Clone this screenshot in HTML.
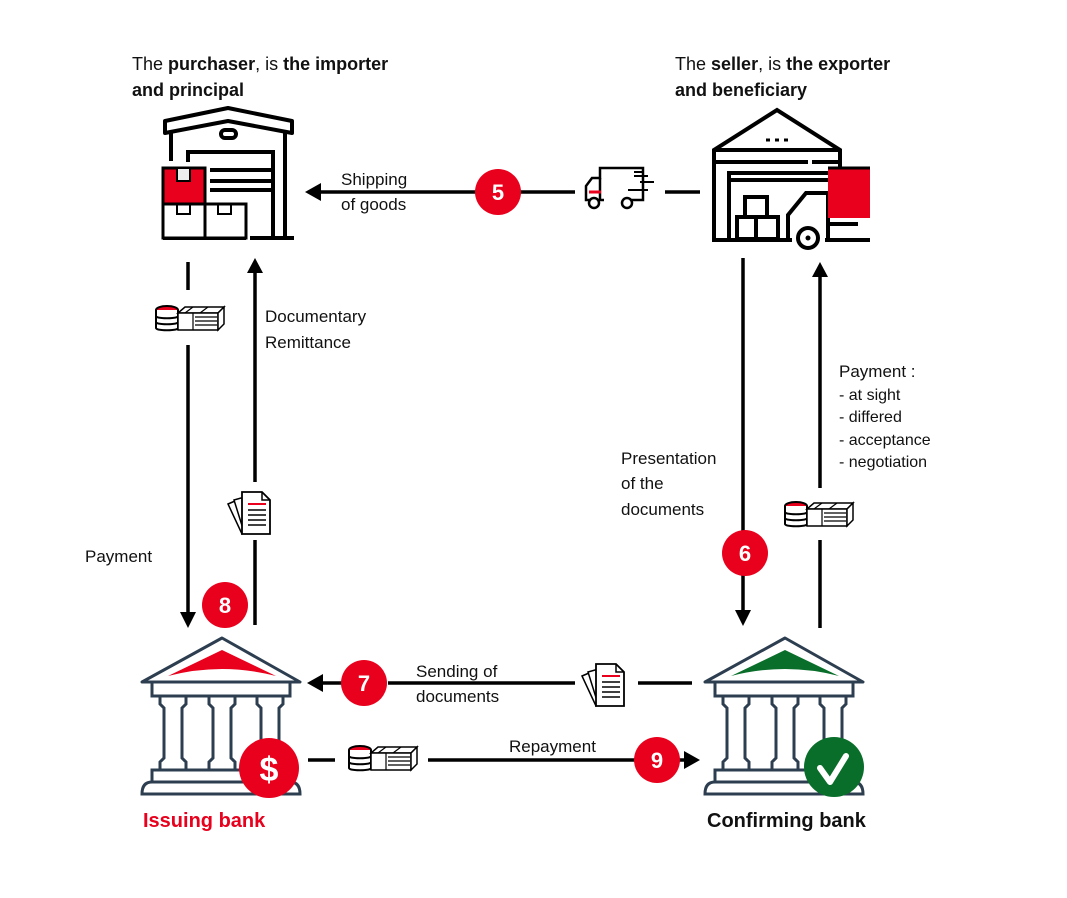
<!DOCTYPE html>
<html><head><meta charset="utf-8"><style>
html,body{margin:0;padding:0;background:#fff;}
svg{display:block;}
text{font-family:"Liberation Sans",sans-serif;font-size:17px;fill:#111;}
.b{font-weight:bold;}
.num{font-weight:bold;font-size:22px;fill:#fff;text-anchor:middle;}
</style></head><body>
<svg width="1067" height="898" viewBox="0 0 1067 898" xmlns="http://www.w3.org/2000/svg">
<defs>
<g id="money">
  <ellipse cx="12" cy="5" rx="11" ry="4" fill="#e8001c" stroke="#000" stroke-width="2"/>
  <path d="M1 5v18c0 3 22 3 22 0V5" fill="#fff" stroke="#000" stroke-width="2"/>
  <path d="M1 11c0 3 22 3 22 0M1 17c0 3 22 3 22 0" fill="none" stroke="#000" stroke-width="2"/>
  <path d="M23 8h40l6-6H30z" fill="#fff" stroke="#000" stroke-width="1.5"/>
  <rect x="23" y="8" width="40" height="17" fill="#fff" stroke="#000" stroke-width="1.5"/>
  <path d="M63 8l6-6v17l-6 6z" fill="#fff" stroke="#000" stroke-width="1.5"/>
  <path d="M40 12h22M40 16h22M40 20h22M38 8v17M30 8l8-6M45 8l8-6" stroke="#000" stroke-width="1.2"/>
</g>
<g id="docs">
  <path d="M2 14l14-6 14 30-14 6z" fill="#fff" stroke="#000" stroke-width="1.5"/>
  <path d="M8 10l14-4 10 32-14 4z" fill="#fff" stroke="#000" stroke-width="1.5"/>
  <path d="M16 2h20l8 8v34H16z" fill="#fff" stroke="#000" stroke-width="1.8"/>
  <path d="M36 2v8h8" fill="none" stroke="#000" stroke-width="1.5"/>
  <path d="M22 14h18" stroke="#e8001c" stroke-width="2"/>
  <path d="M22 20h18M22 25h18M22 30h18M22 35h18" stroke="#000" stroke-width="1.5"/>
</g>
<g id="bank">
  <path d="M2 46L82 2 160 46Z" fill="#fff" stroke="#2d3e50" stroke-width="3" stroke-linejoin="round"/>
  <rect x="12" y="46" width="138" height="14" fill="#fff" stroke="#2d3e50" stroke-width="3"/>
  <g fill="#fff" stroke="#2d3e50" stroke-width="3">
    <path d="M20 60h26v8l-4 4v50l4 4v8H20v-8l4-4V72l-4-4z"/>
    <path d="M69 60h26v8l-4 4v50l4 4v8H69v-8l4-4V72l-4-4z"/>
    <path d="M117 60h26v8l-4 4v50l4 4v8h-26v-8l4-4V72l-4-4z"/>
  </g>
  <rect x="12" y="134" width="138" height="12" fill="#fff" stroke="#2d3e50" stroke-width="3"/>
  <path d="M2 158q0-12 10-12h138q10 0 10 12z" fill="#fff" stroke="#2d3e50" stroke-width="3"/>
</g>
</defs>

<!-- headers -->
<text x="132" y="70" style="font-size:18px">The <tspan class="b">purchaser</tspan>, is <tspan class="b">the importer</tspan></text>
<text x="132" y="96" class="b" style="font-size:18px">and principal</text>
<text x="675" y="70" style="font-size:18px">The <tspan class="b">seller</tspan>, is <tspan class="b">the exporter</tspan></text>
<text x="675" y="96" class="b" style="font-size:18px">and beneficiary</text>

<!-- purchaser warehouse -->
<g fill="none" stroke="#000" stroke-width="4">
  <path d="M165 133v-12l63-13 64 13v12l-64-12z" stroke-linejoin="round"/>
  <path d="M171 131v30M285 131v106"/>
  <path d="M188 162v-10h85v85"/>
  <path d="M210 170h62M210 181h62M210 190h62"/>
  <rect x="221" y="130" width="15" height="8" rx="4"/>
  <path d="M163 238h83M250 238h44"/>
</g>
<rect x="163" y="168" width="42" height="36" fill="#e8001c" stroke="#000" stroke-width="3"/>
<rect x="177" y="168" width="13" height="13" fill="#eee" stroke="#000" stroke-width="2"/>
<rect x="163" y="204" width="42" height="34" fill="#fff" stroke="#000" stroke-width="3"/>
<rect x="205" y="204" width="41" height="34" fill="#fff" stroke="#000" stroke-width="3"/>
<path d="M177 204v10h13v-10M218 204v10h13v-10" fill="none" stroke="#000" stroke-width="2"/>

<!-- seller warehouse -->
<g fill="none" stroke="#000" stroke-width="4">
  <path d="M714 240V150l63-40 63 40v17"/>
  <path d="M714 150h126M714 162h94M812 162h28"/>
  <path d="M729 240V173h100"/>
  <path d="M729 180h100"/>
  <path d="M766 140h4M775 140h4M784 140h4" stroke-width="3"/>
  <path d="M712 240h80M825 240h45"/>
  <rect x="745" y="197" width="22" height="20"/>
  <rect x="737" y="217" width="19" height="22"/>
  <rect x="756" y="217" width="22" height="22"/>
  <path d="M788 240v-25l18-22h22v46"/>
  <path d="M830 224h28"/>
</g>
<rect x="828" y="168" width="42" height="50" fill="#e8001c"/>
<path d="M828 168h42" stroke="#000" stroke-width="3"/>
<circle cx="808" cy="238" r="10" fill="#fff" stroke="#000" stroke-width="4"/>
<circle cx="808" cy="238" r="2.5"/>

<!-- shipping row -->
<path d="M320 192H476M520 192H575M665 192H700" stroke="#000" stroke-width="3.5"/>
<path d="M305 192l16-9v18z"/>
<circle cx="498" cy="192" r="23" fill="#e8001c"/>
<text x="498" y="200" class="num">5</text>
<text x="341" y="185">Shipping</text>
<text x="341" y="210">of goods</text>
<!-- truck -->
<g fill="none" stroke="#000" stroke-width="2.5">
  <path d="M604 200h-18v-14l6-8h8v-10h43v32h-14"/>
  <path d="M600 200v-22"/>
  <path d="M634 176h14M640 182h14M628 190h20M634 172h10" stroke-width="2"/>
</g>
<path d="M589 192h12" stroke="#e8001c" stroke-width="3"/>
<circle cx="594" cy="203" r="5" fill="#fff" stroke="#000" stroke-width="2.5"/>
<circle cx="627" cy="203" r="5" fill="#fff" stroke="#000" stroke-width="2.5"/>

<!-- left vertical lines -->
<path d="M188 262V290M188 345V612" stroke="#000" stroke-width="3.5"/>
<path d="M180 612h16l-8 16z"/>
<use href="#money" x="155" y="305"/>
<path d="M255 272V482M255 540V625" stroke="#000" stroke-width="3.5"/>
<path d="M247 273h16l-8-15z"/>
<use href="#docs" x="226" y="490"/>
<text x="265" y="322">Documentary</text>
<text x="265" y="348">Remittance</text>
<text x="85" y="562">Payment</text>
<circle cx="225" cy="605" r="23" fill="#e8001c"/>
<text x="225" y="613" class="num">8</text>

<!-- right vertical lines -->
<path d="M743 258V612" stroke="#000" stroke-width="3.5"/>
<path d="M735 610h16l-8 16z"/>
<circle cx="745" cy="553" r="23" fill="#e8001c"/>
<text x="745" y="561" class="num">6</text>
<path d="M820 276V488M820 540V628" stroke="#000" stroke-width="3.5"/>
<path d="M812 277h16l-8-15z"/>
<use href="#money" x="784" y="501"/>
<text x="621" y="464">Presentation</text>
<text x="621" y="489">of the</text>
<text x="621" y="515">documents</text>
<text x="839" y="377">Payment :</text>
<text x="839" y="400" style="font-size:16px">- at sight</text>
<text x="839" y="422" style="font-size:16px">- differed</text>
<text x="839" y="445" style="font-size:16px">- acceptance</text>
<text x="839" y="467" style="font-size:16px">- negotiation</text>

<!-- banks -->
<use href="#bank" x="140" y="636"/>
<path d="M168 676L222 650 276 676Q222 662 168 676Z" fill="#e8001c"/>
<use href="#bank" x="703" y="636"/>
<path d="M731 676L785 650 839 676Q785 662 731 676Z" fill="#0a6e2b"/>
<circle cx="269" cy="768" r="30" fill="#e8001c"/>
<text x="269" y="781" class="num" style="font-size:34px">$</text>
<circle cx="834" cy="767" r="30" fill="#0a6e2b"/>
<path d="M820 768l10 14 16-26" fill="none" stroke="#fff" stroke-width="6" stroke-linecap="round" stroke-linejoin="round"/>
<text x="143" y="827" class="b" style="font-size:20px;fill:#e8001c">Issuing bank</text>
<text x="707" y="827" class="b" style="font-size:20px">Confirming bank</text>

<!-- sending row -->
<path d="M322 683H342M388 683H575M638 683H692" stroke="#000" stroke-width="3.5"/>
<path d="M307 683l16-9v18z"/>
<circle cx="364" cy="683" r="23" fill="#e8001c"/>
<text x="364" y="691" class="num">7</text>
<use href="#docs" x="580" y="662"/>
<text x="416" y="677">Sending of</text>
<text x="416" y="702">documents</text>

<!-- repayment row -->
<path d="M308 760H335M428 760H635M678 760H685" stroke="#000" stroke-width="3.5"/>
<path d="M684 751l16 9-16 9z"/>
<use href="#money" x="348" y="745"/>
<circle cx="657" cy="760" r="23" fill="#e8001c"/>
<text x="657" y="768" class="num">9</text>
<text x="509" y="752">Repayment</text>
</svg>
</body></html>
